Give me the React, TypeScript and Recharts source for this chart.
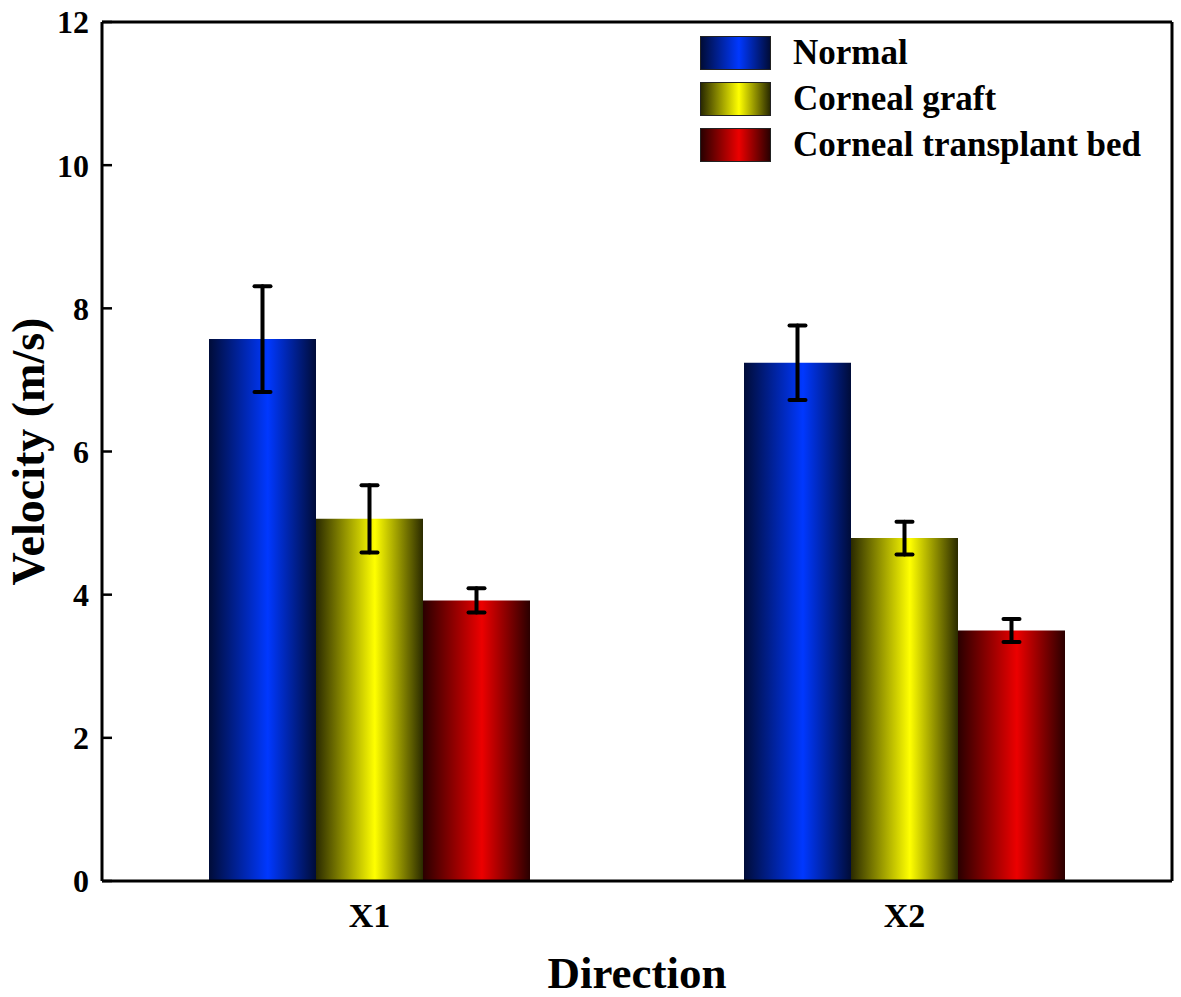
import React from 'react';
import {
  BarChart,
  Bar,
  XAxis,
  YAxis,
  ErrorBar
} from 'recharts';

const categories = ['X1', 'X2'];
const normal = [7.57, 7.24];
const normalErr = [0.74, 0.52];
const graft = [5.06, 4.79];
const graftErr = [0.47, 0.23];
const bed = [3.92, 3.5];
const bedErr = [0.17, 0.16];
const yTicks = [0, 2, 4, 6, 8, 10, 12];

const seriesInfo = [
  { key: 'normal', name: 'Normal', grad: 'gNormal', edge: '#000c38', mid: '#0038ff' },
  { key: 'graft', name: 'Corneal graft', grad: 'gGraft', edge: '#2a2a00', mid: '#ffff00' },
  { key: 'bed', name: 'Corneal transplant bed', grad: 'gBed', edge: '#2a0000', mid: '#ec0000' }
];

const data = categories.map((c, i) => ({
  name: c,
  normal: normal[i],
  normalErr: normalErr[i],
  graft: graft[i],
  graftErr: graftErr[i],
  bed: bed[i],
  bedErr: bedErr[i]
}));

const font = '"Liberation Serif", "Times New Roman", serif';

// legend drawn as an overlay so it doesn't eat plot space
const LegendBox = () => (
  <div
    style={{
      position: 'absolute',
      left: 700,
      top: 30,
      fontFamily: font,
      fontWeight: 'bold',
      fontSize: 35,
      color: '#000'
    }}
  >
    {seriesInfo.map((s) => (
      <div key={s.key} style={{ display: 'flex', alignItems: 'center', height: 46 }}>
        <div
          style={{
            width: 71,
            height: 34,
            marginRight: 22,
            border: '1px solid #222',
            boxSizing: 'border-box',
            background: `linear-gradient(to right, ${s.edge} 0%, ${s.mid} 55%, ${s.edge} 100%)`
          }}
        />
        <span style={{ lineHeight: '34px', whiteSpace: 'nowrap' }}>{s.name}</span>
      </div>
    ))}
  </div>
);

export default function App() {
  return (
    <div style={{ position: 'absolute', left: 0, top: 0, width: 1181, height: 997, background: '#fff' }}>
      <BarChart
        width={1181}
        height={997}
        data={data}
        margin={{ top: 21, right: 8, left: 0, bottom: 56 }}
        barCategoryGap="20%"
        barGap={0}
      >
        <defs>
          {seriesInfo.map((s) => (
            <linearGradient key={s.grad} id={s.grad} x1="0" y1="0" x2="1" y2="0">
              <stop offset="0%" stopColor={s.edge} />
              <stop offset="55%" stopColor={s.mid} />
              <stop offset="100%" stopColor={s.edge} />
            </linearGradient>
          ))}
        </defs>
        <XAxis
          dataKey="name"
          height={60}
          tickSize={0}
          tickMargin={22}
          axisLine={{ stroke: '#000', strokeWidth: 3 }}
          tick={{ fontFamily: font, fontWeight: 'bold', fontSize: 34, fill: '#000' }}
          label={{
            value: 'Direction',
            position: 'bottom',
            offset: 15,
            style: { fontFamily: font, fontWeight: 'bold', fontSize: 45, fill: '#000' }
          }}
        />
        <XAxis
          xAxisId="top"
          dataKey="name"
          orientation="top"
          height={1}
          tick={false}
          tickLine={false}
          axisLine={{ stroke: '#000', strokeWidth: 3 }}
        />
        <YAxis
          width={102}
          domain={[0, 12]}
          ticks={yTicks}
          tickSize={-10}
          tickMargin={23}
          axisLine={{ stroke: '#000', strokeWidth: 3 }}
          tickLine={{ stroke: '#000', strokeWidth: 2.5 }}
          tick={{ fontFamily: font, fontWeight: 'bold', fontSize: 32, fill: '#000' }}
          label={{
            content: (props: any) => {
              const vb = props.viewBox || {};
              const cx = 28;
              const cy = (vb.y || 0) + (vb.height || 0) / 2;
              return (
                <text
                  x={cx}
                  y={cy}
                  transform={`rotate(-90, ${cx}, ${cy})`}
                  textAnchor="middle"
                  dominantBaseline="central"
                  style={{ fontFamily: font, fontWeight: 'bold', fontSize: 46, fill: '#000' }}
                >
                  Velocity (m/s)
                </text>
              );
            }
          }}
        />
        <YAxis
          yAxisId="right"
          orientation="right"
          width={1}
          domain={[0, 12]}
          tick={false}
          tickLine={false}
          axisLine={{ stroke: '#000', strokeWidth: 3 }}
        />
        {seriesInfo.map((s) => (
          <Bar
            key={s.key}
            dataKey={s.key}
            name={s.name}
            fill={`url(#${s.grad})`}
            isAnimationActive={false}
          >
            <ErrorBar
              dataKey={`${s.key}Err`}
              width={8}
              stroke="#000"
              strokeWidth={4}
              strokeLinecap="round"
            />
          </Bar>
        ))}
      </BarChart>
      <LegendBox />
    </div>
  );
}
